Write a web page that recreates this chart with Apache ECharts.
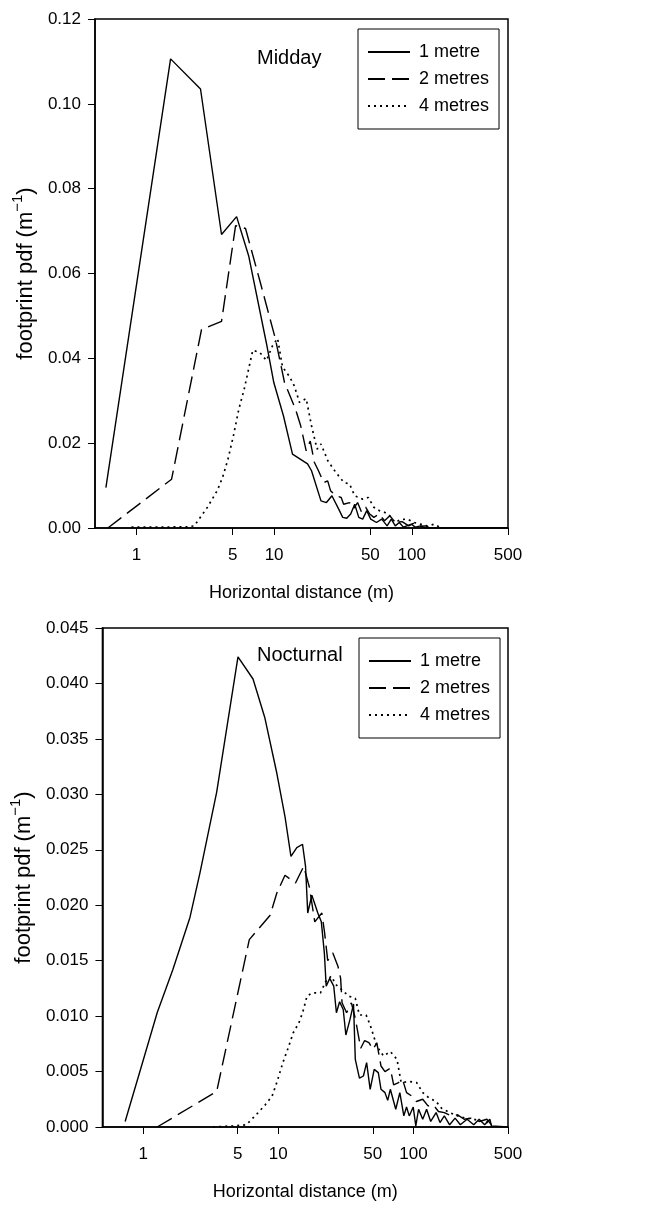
<!DOCTYPE html>
<html>
<head>
<meta charset="utf-8">
<script src="https://cdn.jsdelivr.net/npm/echarts@6/dist/echarts.min.js"></script>
<style>
html,body{margin:0;padding:0;background:#fff;}
#c{width:648px;height:1208px;}
</style>
</head>
<body>
<div id="c"></div>
<script>
// ---------- DATA ----------
const seriesNames = ['1 metre', '2 metres', '4 metres'];
const xTickValues = [1, 5, 10, 50, 100, 500];
const middayTicksY = [0, 0.02, 0.04, 0.06, 0.08, 0.10, 0.12];
const nocturnalTicksY = [0, 0.005, 0.010, 0.015, 0.020, 0.025, 0.030, 0.035, 0.040, 0.045];

// Midday, [distance (m), footprint pdf]
const midday1m = [[0.6,0.0095],[1.77,0.1106],[2.92,0.1035],[4.15,0.0692],[5.34,0.0734],[6.53,0.0642],[8.8,0.0435],[9.95,0.0343],[11.7,0.0264],[13.6,0.0174],[17.5,0.0151],[18.7,0.0135],[21.9,0.0064],[24,0.006],[26.3,0.0076],[29.4,0.0045],[31.5,0.0025],[33.7,0.0023],[36,0.0033],[38.5,0.0056],[41.2,0.0025],[44,0.0021],[47.1,0.0041],[50.3,0.0021],[55.4,0.0013],[60.5,0.0021],[66.2,0.0005],[71,0.0021],[75.9,0.0005],[81,0.0013],[87,0.0002],[99.5,0.0009],[106,0.0002],[116,0.0005],[125,0.0],[500,0.0]];
const midday2m = [[0.62,0.0],[1.8,0.0115],[2.97,0.0468],[4.15,0.0487],[5.25,0.0713],[6.2,0.0706],[7.86,0.0584],[10.2,0.0447],[11.9,0.0343],[14.3,0.028],[15.6,0.0241],[17.1,0.0182],[18.3,0.0205],[19.6,0.0155],[21,0.0135],[22.9,0.0107],[24.5,0.0111],[25.7,0.0088],[28,0.0076],[30.7,0.0072],[32,0.0056],[35.3,0.006],[37.7,0.0045],[40.4,0.006],[43.2,0.0037],[46.2,0.0049],[49.5,0.0033],[53,0.0025],[58,0.0033],[63.4,0.0017],[69.3,0.0029],[75.9,0.0013],[85,0.0015],[95,0.0005],[104,0.0012],[114,0.0004],[127,0.0005],[135,0.0]];
const midday4m = [[0.92,0.0002],[1.5,0.0002],[2.35,0.0003],[2.63,0.0005],[3.28,0.0049],[3.86,0.0088],[4.22,0.0119],[4.62,0.0162],[5.06,0.0217],[5.54,0.028],[6.06,0.0327],[7.0,0.0419],[7.86,0.0414],[8.8,0.0395],[9.75,0.043],[10.6,0.0447],[11.5,0.038],[13,0.0356],[14,0.0335],[15.3,0.0296],[17.1,0.0305],[18.7,0.0241],[20.5,0.0186],[21.9,0.0198],[24.6,0.0158],[28.1,0.0131],[32.2,0.0107],[35.3,0.0104],[38.5,0.0076],[44,0.0068],[48.3,0.0072],[53,0.0049],[58,0.0041],[63.4,0.0037],[69,0.0029],[76,0.0013],[83,0.002],[93,0.0021],[104,0.0013],[116,0.0009],[130,0.0005],[146,0.0009],[160,0.0002],[170,0.0]];

// Nocturnal
const nocturnal1m = [[0.736,0.0005],[1.0,0.006],[1.27,0.0103],[1.66,0.0142],[2.22,0.0189],[2.63,0.0229],[3.5,0.0302],[5.03,0.0424],[6.5,0.0404],[7.95,0.0369],[9.75,0.0319],[11.2,0.028],[12.4,0.0244],[13.7,0.0252],[15.1,0.0255],[15.9,0.0235],[16.5,0.0193],[17.7,0.0209],[19.6,0.0193],[20.8,0.0185],[21.9,0.0157],[22.6,0.0127],[24,0.0134],[25.7,0.0127],[26.9,0.0103],[28.4,0.0113],[30.2,0.0106],[31.6,0.0083],[33.9,0.0097],[36,0.0111],[37.1,0.0061],[39.8,0.0044],[42.6,0.0046],[45,0.0058],[47.8,0.0034],[51.2,0.0052],[54.9,0.0049],[57.5,0.0034],[61.5,0.0031],[64.4,0.0024],[67.4,0.0034],[73.9,0.0016],[79.2,0.0031],[84.8,0.001],[88.8,0.0018],[93,0.001],[99.5,0.0018],[104,0.0001],[109,0.0016],[117,0.0007],[125,0.0016],[134,0.0005],[147,0.0013],[157,0.0004],[169,0.001],[185,0.0002],[203,0.0008],[222,0.0002],[249,0.0007],[279,0.0002],[306,0.0007],[336,0.0002],[367,0.0007],[377,0.0001],[380,0.0],[500,0.0]];
const nocturnal2m = [[1.27,0.0],[3.5,0.0032],[6.1,0.0169],[8.7,0.0191],[9.75,0.0211],[11.2,0.0227],[13.4,0.022],[15.4,0.0235],[17,0.0216],[18.6,0.0185],[21,0.0193],[22,0.0175],[23.2,0.015],[25.3,0.0157],[27.6,0.0145],[28.9,0.0134],[29.6,0.0112],[32,0.0103],[34.7,0.0112],[37.1,0.0098],[40.7,0.0071],[43.5,0.0078],[46.8,0.0076],[50.2,0.007],[53.5,0.0076],[57.5,0.0055],[61.5,0.005],[67.4,0.0053],[71.3,0.0038],[77.5,0.004],[83,0.0043],[88.8,0.0031],[96.8,0.0028],[105,0.0023],[117,0.0025],[128,0.0019],[140,0.002],[153,0.0014],[169,0.0013],[190,0.001],[212,0.0011],[237,0.0007],[265,0.0008],[306,0.0005],[349,0.0007],[377,0.0002]];
const nocturnal4m = [[3.3,0.0],[4.6,0.0001],[5.8,0.0002],[7.1,0.0013],[8.0,0.002],[9.0,0.0028],[9.8,0.0041],[10.8,0.0058],[11.8,0.0071],[12.9,0.0085],[14.2,0.0094],[15.2,0.0104],[16.3,0.0118],[17.8,0.0121],[20.5,0.0121],[22.4,0.0131],[24.6,0.0136],[26.9,0.0128],[30,0.0123],[33.1,0.0118],[37.1,0.0116],[39.8,0.0101],[44.6,0.0101],[47.8,0.0092],[53.5,0.0073],[60,0.0064],[67.4,0.0068],[75.5,0.0061],[81,0.004],[93,0.0041],[105.6,0.004],[117,0.0031],[131,0.0026],[147,0.0023],[161,0.0017],[185,0.0013],[212,0.001],[243,0.0008],[279,0.0007],[319,0.0005],[367,0.0004]];

// ---------- CHART ----------
const FONT = "'Liberation Sans', Arial, sans-serif";
const chart = echarts.init(document.getElementById('c'), null, {renderer: 'canvas'});

const lineStyles = [
  {type: 'solid', width: 1.4, color: '#000'},
  {type: [17, 7], width: 1.4, color: '#000'},
  {type: [2, 4], width: 1.7, color: '#000'}
];

function xAxisDef(gridIndex) {
  return {
    type: 'log', logBase: 10, min: 0.5, max: 500, gridIndex,
    name: 'Horizontal distance (m)', nameLocation: 'middle', nameGap: 56,
    nameTextStyle: {fontFamily: FONT, fontSize: 18, color: '#000'},
    axisLine: {show: true, lineStyle: {color: '#000', width: 1.5}},
    axisTick: {show: true, inside: false, length: 7, customValues: xTickValues, lineStyle: {color: '#000', width: 1}},
    minorTick: {show: false},
    axisLabel: {show: true, margin: 19, fontFamily: FONT, fontSize: 17, color: '#000', customValues: xTickValues,
      formatter: v => String(v)},
    splitLine: {show: false}
  };
}
function yAxisDef(gridIndex, max, interval, digits, gap) {
  return {
    type: 'value', min: 0, max, interval, gridIndex,
    name: '{a|footprint pdf (m}{s|−1}{a|)}', nameLocation: 'middle', nameGap: gap, nameRotate: 90,
    nameTextStyle: {rich: {
      a: {fontFamily: FONT, fontSize: 22, color: '#000', verticalAlign: 'bottom', lineHeight: 27},
      s: {fontFamily: FONT, fontSize: 15, color: '#000', verticalAlign: 'top', lineHeight: 27}
    }},
    axisLine: {show: true, lineStyle: {color: '#000', width: 1.5}},
    axisTick: {show: true, inside: false, length: 7, lineStyle: {color: '#000', width: 1}},
    axisLabel: {margin: 14, fontFamily: FONT, fontSize: 17, color: '#000', formatter: v => v.toFixed(digits)},
    splitLine: {show: false}
  };
}
function seriesDef(name, data, idx, axisIndex) {
  return {
    name, type: 'line', data, xAxisIndex: axisIndex, yAxisIndex: axisIndex,
    symbol: 'none', lineStyle: lineStyles[idx], itemStyle: {color: '#000', opacity: 0},
    animation: false, silent: true
  };
}
function legendDef(left, top) {
  return {
    data: seriesNames, orient: 'vertical', left, top,
    itemWidth: 42, itemHeight: 14, itemGap: 9,
    padding: [14, 10, 14, 9],
    borderColor: '#000', borderWidth: 1, backgroundColor: '#fff',
    selectedMode: false,
    itemStyle: {opacity: 0},
    textStyle: {fontFamily: FONT, fontSize: 18, color: '#000', padding: [0, 0, 0, 4]}
  };
}

chart.setOption({
  animation: false,
  backgroundColor: '#fff',
  grid: [
    {left: 95, top: 19, width: 413, height: 509, show: true, borderColor: '#000', borderWidth: 1.5, backgroundColor: 'transparent'},
    {left: 101, top: 628, width: 407, height: 499, show: true, borderColor: '#000', borderWidth: 1.5, backgroundColor: 'transparent'}
  ],
  xAxis: [xAxisDef(0), xAxisDef(1)],
  yAxis: [yAxisDef(0, 0.12, 0.02, 2, 50), yAxisDef(1, 0.045, 0.005, 3, 56)],
  legend: [legendDef(358, 29), legendDef(359, 638)],
  graphic: [
    {type: 'text', left: 257, top: 48, style: {text: 'Midday', fontFamily: FONT, fontSize: 20, fill: '#000'}},
    {type: 'text', left: 257, top: 645, style: {text: 'Nocturnal', fontFamily: FONT, fontSize: 20, fill: '#000'}}
  ],
  series: [
    seriesDef(seriesNames[0], midday1m, 0, 0),
    seriesDef(seriesNames[1], midday2m, 1, 0),
    seriesDef(seriesNames[2], midday4m, 2, 0),
    seriesDef(seriesNames[0], nocturnal1m, 0, 1),
    seriesDef(seriesNames[1], nocturnal2m, 1, 1),
    seriesDef(seriesNames[2], nocturnal4m, 2, 1)
  ]
});
</script>
</body>
</html>
